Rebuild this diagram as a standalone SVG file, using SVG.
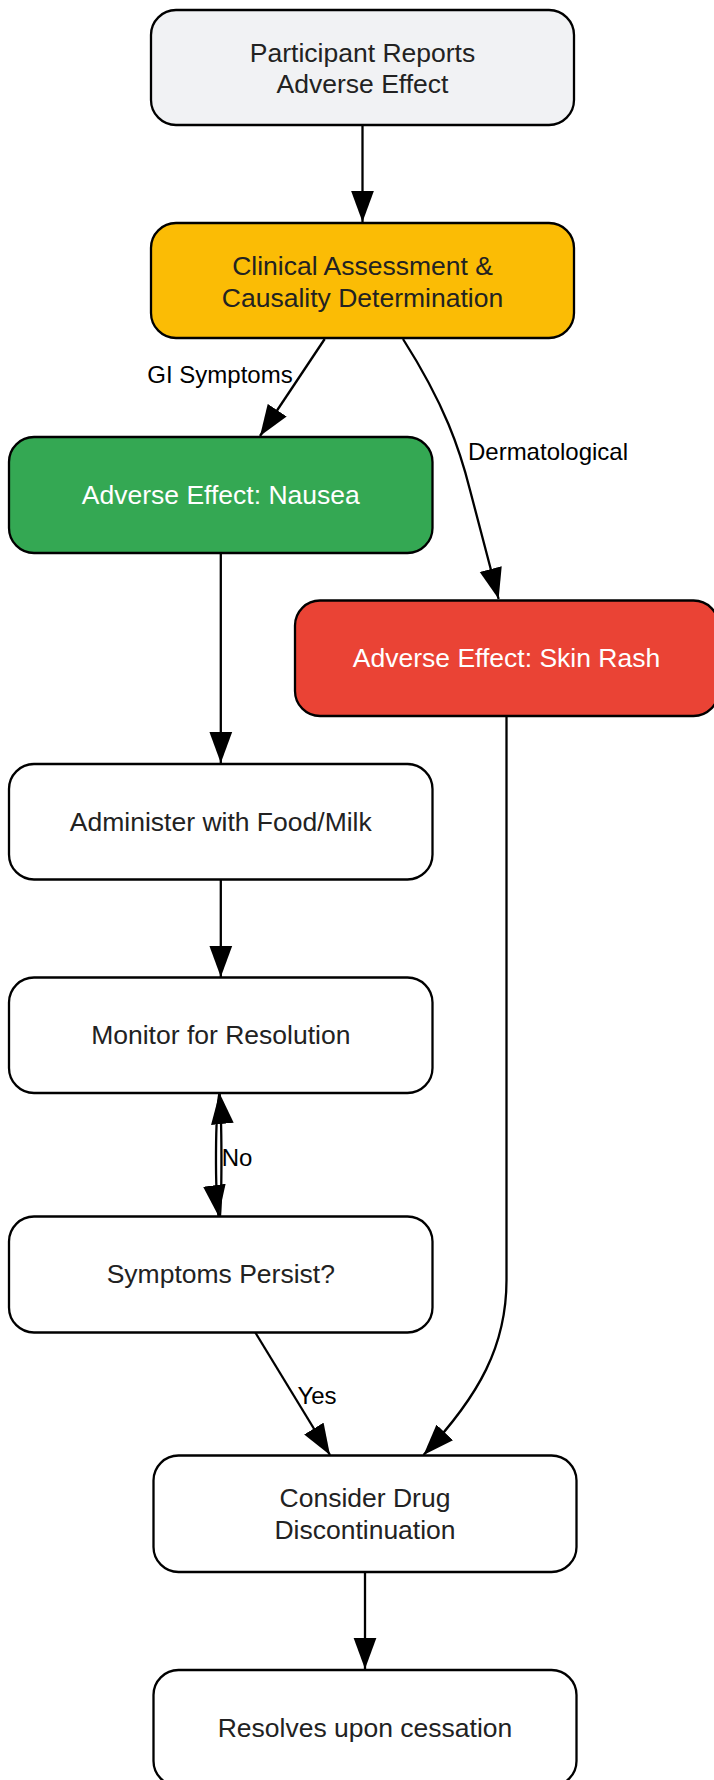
<svg xmlns="http://www.w3.org/2000/svg" width="714" height="1780" viewBox="0 0 714 1780">
<style>
.node rect{stroke:#000;stroke-width:2.3}
.t{font-family:"Liberation Sans",Arial,sans-serif;font-size:26.5px;fill:#222222;text-anchor:middle;dominant-baseline:central}
.w{fill:#ffffff}
.e{fill:none;stroke:#000;stroke-width:2.3}
.lbl{font-family:"Liberation Sans",Arial,sans-serif;font-size:24px;fill:#000;text-anchor:middle;dominant-baseline:central}
</style>
<defs>
<marker id="arr" markerUnits="userSpaceOnUse" markerWidth="31" markerHeight="24" viewBox="0 0 30 22" refX="30" refY="11" orient="auto">
<path d="M0,0 L30,11 L0,22 z" fill="#000"/>
</marker>
</defs>
<rect width="714" height="1780" fill="#ffffff"/>
<g id="connectors">
<path class="e" d="M362.5,125 L362.5,222" marker-end="url(#arr)"/>
<path class="e" d="M324.7,339 L260,436" marker-end="url(#arr)"/>
<path class="e" d="M403,339 C445,405 460,450 470,490 L498.6,599" marker-end="url(#arr)"/>
<path class="e" d="M220.8,553 L220.8,763" marker-end="url(#arr)"/>
<path class="e" d="M506.5,716 L506.5,1280 C506.5,1345 480,1395 423.5,1455" marker-end="url(#arr)"/>
<path class="e" d="M220.8,879 L220.8,977" marker-end="url(#arr)"/>
<path class="e" d="M219.5,1093 C215,1115 215,1190 218.5,1216" marker-end="url(#arr)"/>
<path class="e" d="M220,1216 C222,1190 222,1120 219.5,1093" marker-end="url(#arr)"/>
<path class="e" d="M255,1332 L330,1455" marker-end="url(#arr)"/>
<path class="e" d="M365,1572 L365,1669" marker-end="url(#arr)"/>
<text class="lbl" x="220" y="374">GI Symptoms</text>
<text class="lbl" x="548" y="451.5">Dermatological</text>
<text class="lbl" x="237" y="1157">No</text>
<text class="lbl" x="317" y="1395">Yes</text>
</g>
<g id="n1" class="node">
<rect x="151" y="10" width="423" height="115" rx="25" fill="#f1f2f4"/>
<text class="t" x="362.5" y="52.5">Participant Reports</text>
<text class="t" x="362.5" y="84">Adverse Effect</text>
</g>
<g id="n2" class="node">
<rect x="151" y="223" width="423" height="115" rx="25" fill="#fbbc05"/>
<text class="t" x="362.5" y="266">Clinical Assessment &amp;</text>
<text class="t" x="362.5" y="298">Causality Determination</text>
</g>
<g id="n3" class="node">
<rect x="9" y="437" width="423.5" height="116" rx="25" fill="#34a853"/>
<text class="t w" x="220.8" y="495">Adverse Effect: Nausea</text>
</g>
<g id="n4" class="node">
<rect x="295" y="600.5" width="423.5" height="115.5" rx="25" fill="#ea4335"/>
<text class="t w" x="506.5" y="658">Adverse Effect: Skin Rash</text>
</g>
<g id="n5" class="node">
<rect x="9" y="764" width="423.5" height="115.5" rx="25" fill="#ffffff"/>
<text class="t" x="220.8" y="821.5">Administer with Food/Milk</text>
</g>
<g id="n6" class="node">
<rect x="9" y="977.5" width="423.5" height="115.5" rx="25" fill="#ffffff"/>
<text class="t" x="220.8" y="1035">Monitor for Resolution</text>
</g>
<g id="n7" class="node">
<rect x="9" y="1216.5" width="423.5" height="116" rx="25" fill="#ffffff"/>
<text class="t" x="220.8" y="1274">Symptoms Persist?</text>
</g>
<g id="n8" class="node">
<rect x="153.5" y="1455.5" width="423" height="116.5" rx="25" fill="#ffffff"/>
<text class="t" x="365" y="1498">Consider Drug</text>
<text class="t" x="365" y="1530">Discontinuation</text>
</g>
<g id="n9" class="node">
<rect x="153.5" y="1670" width="423" height="116" rx="25" fill="#ffffff"/>
<text class="t" x="365" y="1728">Resolves upon cessation</text>
</g>
</svg>
